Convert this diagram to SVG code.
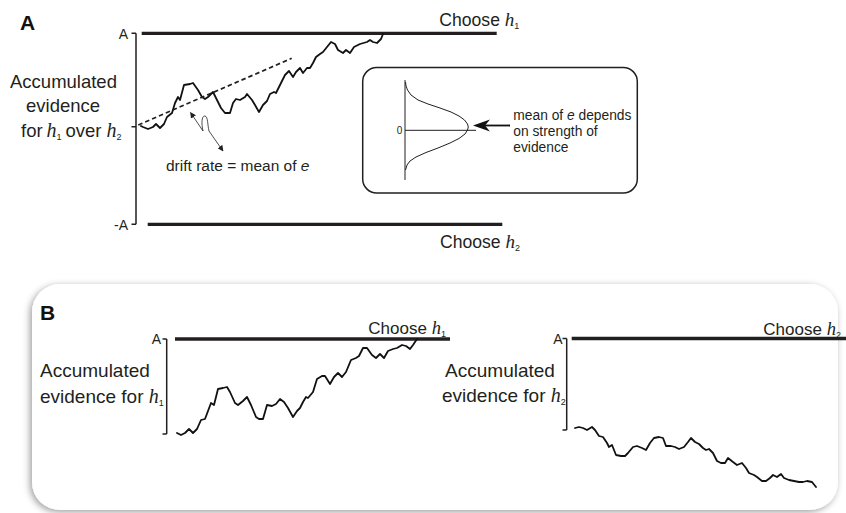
<svg xmlns="http://www.w3.org/2000/svg" width="846" height="513" viewBox="0 0 846 513">
<defs>
<style>
.t{font-family:"Liberation Sans",Arial,sans-serif;fill:#231f20}
.pl{font-family:"Liberation Sans",Arial,sans-serif;font-weight:bold;font-size:21px;fill:#111}
.it{font-family:"Liberation Serif","Times New Roman",serif;font-style:italic}
.th{stroke:#231f20;stroke-width:3.3;fill:none}
.ax{stroke:#231f20;stroke-width:1.5;fill:none}
.walk{stroke:#111;stroke-width:1.8;fill:none;stroke-linejoin:round;stroke-linecap:round}
.thin{stroke:#231f20;stroke-width:1;fill:none}
</style>
<marker id="ah" viewBox="0 0 10 10" refX="9" refY="5" markerWidth="6" markerHeight="6" markerUnits="userSpaceOnUse" orient="auto-start-reverse">
<path d="M0,0 L10,5 L0,10 z" fill="#231f20"/>
</marker>
<filter id="sh" x="-5%" y="-10%" width="110%" height="120%">
<feDropShadow dx="-2" dy="2" stdDeviation="3.5" flood-color="#000" flood-opacity="0.38"/>
</filter>
</defs>
<rect width="846" height="513" fill="#fff"/>

<g id="panelA">
<text class="pl" x="20" y="30">A</text>
<g id="axisA">
<path class="ax" d="M136,33.3 V224.3 M131.5,33.3 H136 M131.5,126.7 H136 M131.5,224.3 H136"/>
<text class="t" x="128" y="38.5" font-size="14" text-anchor="end">A</text>
<text class="t" x="128" y="229.5" font-size="14" text-anchor="end">-A</text>
</g>
<g id="labelA" class="t" font-size="18.5">
<text x="10" y="88">Accumulated</text>
<text x="26" y="112">evidence</text>
<text y="136.5"><tspan x="21">for</tspan><tspan x="46.5" class="it" font-size="20">h</tspan><tspan x="56.5" dy="3" font-size="9">1</tspan><tspan x="65.5" dy="-3">over</tspan><tspan x="106.5" class="it" font-size="20">h</tspan><tspan x="116.5" dy="3" font-size="9">2</tspan></text>
</g>
<g id="thresholdA1">
<line class="th" x1="141.7" y1="33.3" x2="496.7" y2="33.3"/>
<text class="t" x="439.3" y="25.5" font-size="17.6">Choose <tspan class="it" font-size="19">h</tspan><tspan font-size="9" dy="3">1</tspan></text>
</g>
<g id="thresholdA2">
<line class="th" x1="147.7" y1="224.3" x2="502.3" y2="224.3"/>
<text class="t" x="440" y="247.5" font-size="17.6">Choose <tspan class="it" font-size="19">h</tspan><tspan font-size="9" dy="3">2</tspan></text>
</g>
<polyline id="walkA" class="walk" points="141,126 143,127 148,129 153,127 156,124 160,128 164,124 167,117 172,113 175,103 178,97 180,100 184,85 190,84 193,83 198,90 202,97 205,99 208,97 213,92 217,100 221,108 225,113 230,113 233,103 236,99 240,100 245,97 247,94 252,100 255,105 259,112 263,105 267,101 270,94 274,92 276,93 281,83 285,75 289,71 293,77 296,72 300,68 303,73 307,68 310,68 313,63 316,57 320,54 323,52 327,47 331,42 335,44 338,50 343,53 346,50 350,53 354,47 360,44 367,42 370,40 373,42 377,43 381,39 383,34"/>
<text id="driftLabel" class="t" x="166" y="171" font-size="15.5">drift rate = mean of <tspan font-style="italic">e</tspan></text>
<g id="inset">
<rect x="362.7" y="67.5" width="274.6" height="125.5" rx="14" fill="#fff" stroke="#231f20" stroke-width="1.5"/>
<line class="thin" x1="405" y1="80" x2="405" y2="180"/>
<line class="thin" x1="405" y1="130.3" x2="476" y2="130.3"/>
<text class="t" x="399.5" y="134" font-size="10" text-anchor="middle">0</text>
<polyline class="thin" stroke-linejoin="round" points="405.5,82 406,86 407.5,90 411,95 418,100 428,104 440,108 451,112 459,116 464.5,120 467.5,124 468.3,127 467.5,130 465,134 459,138.5 450,143 438,148 426,152.5 416,157 410,161 407,165 405.5,170"/>
<g class="t" font-size="13.8">
<text x="513.3" y="119.5">mean of <tspan font-style="italic">e</tspan> depends</text>
<text x="513.3" y="135.5">on strength of</text>
<text x="513.3" y="152">evidence</text>
</g>
</g>
</g>

<g id="connectors">
<line x1="138.3" y1="125" x2="291.7" y2="58.3" stroke="#231f20" stroke-width="1.7" stroke-dasharray="4.5 3"/>
<path d="M190.5,112.5 L203,131 C201,122 202,115.5 205,116 C208,116.5 207.5,125 209,131 L223,151" fill="none" stroke="#231f20" stroke-width="0.8" marker-start="url(#ah)" marker-end="url(#ah)"/>
<line x1="510" y1="125.5" x2="484" y2="125.5" stroke="#111" stroke-width="1.8"/>
<polygon points="473,125.5 490,119.5 485,125.5 490,131.5" fill="#111"/>
</g>

<g id="panelB">
<rect x="32" y="284" width="806" height="226" rx="28" fill="#fff" filter="url(#sh)"/>
<text class="pl" x="40" y="320">B</text>
<g id="plotB1">
<path class="ax" d="M166.7,339 V434 M162.5,339 H166.7 M162.5,434 H166.7"/>
<text class="t" x="161" y="344" font-size="14" text-anchor="end">A</text>
<line class="th" x1="175" y1="339" x2="450" y2="339"/>
<text class="t" x="368.3" y="334" font-size="17">Choose <tspan class="it" font-size="18.5">h</tspan><tspan font-size="9" dy="3">1</tspan></text>
<text class="t" x="40" y="377" font-size="19">Accumulated</text>
<text class="t" x="40" y="403" font-size="19">evidence for <tspan class="it" font-size="20">h</tspan><tspan font-size="9" dy="3">1</tspan></text>
<polyline class="walk" points="177,433 181,435 185,433 189,429 193,433 197,429 201,420 205,419 208,411 211,403 214,405 218,389 223,388 227,387 230,392 235,403 238,405 243,401 247,397 251,405 256,417 259,419 263,419 267,405 272,406 276,404 280,399 284,402 288,408 293,417 297,411 300,408 303,402 306,397 308,398 313,392 317,379 322,376 325,376 330,384 334,377 338,373 342,377 346,372 351,360 356,358 359,356 363,348 367,348 372,355 376,358 380,354 384,358 388,351 393,349 397,348 402,345 406,346 410,349 413,345 417,339"/>
</g>
<g id="plotB2">
<path class="ax" d="M566.7,338.5 V430 M562.5,338.5 H566.7 M562.5,430 H566.7"/>
<text class="t" x="562.7" y="343.5" font-size="14" text-anchor="end">A</text>
<line class="th" x1="571.7" y1="338.5" x2="846" y2="338.5"/>
<text class="t" x="763.3" y="335" font-size="17">Choose <tspan class="it" font-size="18.5">h</tspan><tspan font-size="9" dy="3">2</tspan></text>
<text class="t" x="500" y="377" font-size="19" text-anchor="middle">Accumulated</text>
<text class="t" x="442" y="402" font-size="19">evidence for <tspan class="it" font-size="20">h</tspan><tspan font-size="9" dy="3">2</tspan></text>
<polyline class="walk" points="575,428 579,427 583,428 587,430 592,427 595,430 599,436 603,437 607,443 609,447 612,445 616,455 621,456 625,456 628,453 633,447 637,446 642,448 646,450 650,443 654,438 659,437 663,438 666,446 671,446 675,447 679,449 684,447 688,442 691,438 695,442 699,444 703,448 706,450 709,449 713,453 717,461 721,463 725,463 728,458 733,462 737,465 742,463 746,468 749,473 754,475 757,477 762,481 766,481 770,478 773,475 777,477 781,474 784,478 789,480 794,481 799,482 803,482 807,481 812,482 816,487"/>
</g>
</g>
</svg>
